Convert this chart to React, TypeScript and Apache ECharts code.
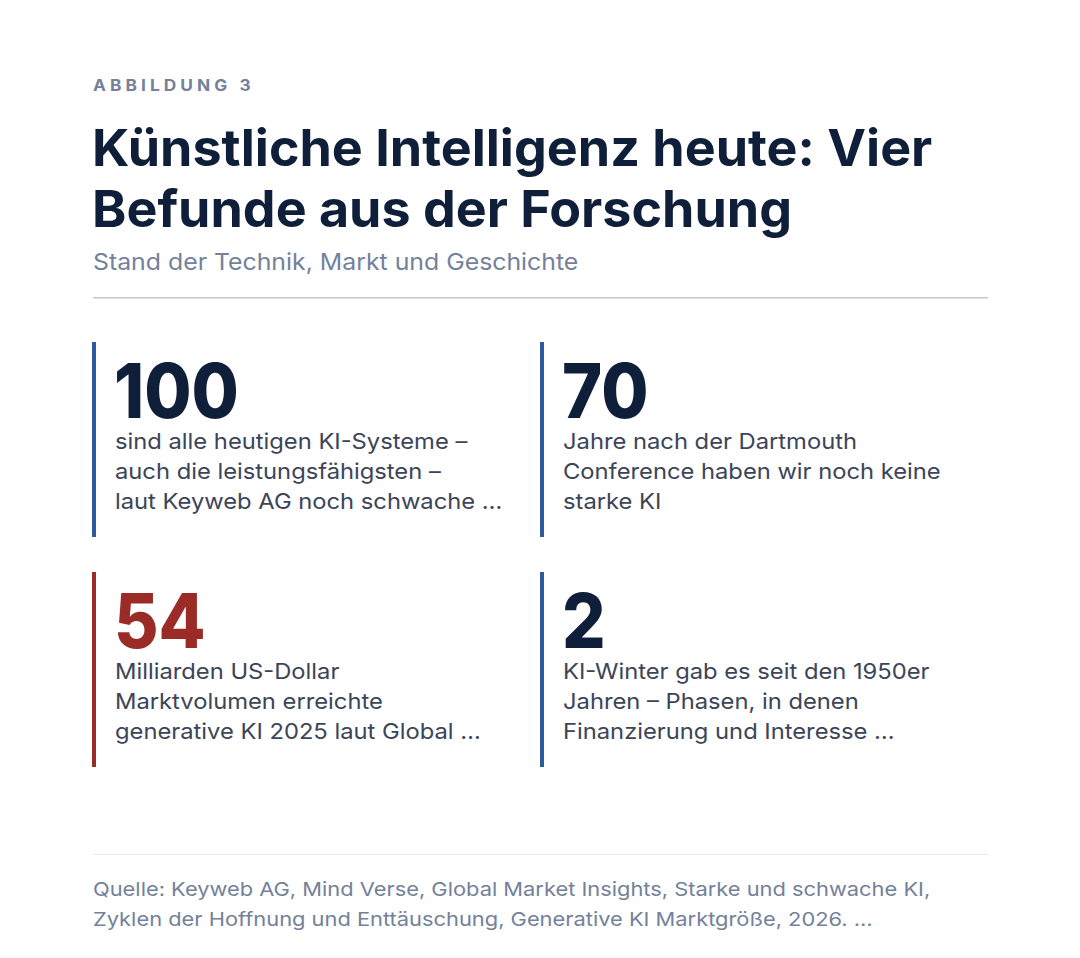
import { useEffect, useRef } from "react";
import * as echarts from "echarts";

const eyebrow = "ABBILDUNG 3";
const titleLines = ["Künstliche Intelligenz heute: Vier", "Befunde aus der Forschung"];
const subtitle = "Stand der Technik, Markt und Geschichte";

const statValues = ["100", "70", "54", "2"];
const statTexts = [
  ["sind alle heutigen KI-Systeme –", "auch die leistungsfähigsten –", "laut Keyweb AG noch schwache …"],
  ["Jahre nach der Dartmouth", "Conference haben wir noch keine", "starke KI"],
  ["Milliarden US-Dollar", "Marktvolumen erreichte", "generative KI 2025 laut Global …"],
  ["KI-Winter gab es seit den 1950er", "Jahren – Phasen, in denen", "Finanzierung und Interesse …"],
];
const statHighlight = [false, false, true, false];

const sourceLines = [
  "Quelle: Keyweb AG, Mind Verse, Global Market Insights, Starke und schwache KI,",
  "Zyklen der Hoffnung und Enttäuschung, Generative KI Marktgröße, 2026. …",
];

const FONT = "Inter, 'Noto Sans', sans-serif";
const NAVY = "#0f1f3a";
const MUTED = "#74819a";
const BODY = "#3c4558";
const BLUE = "#2d5a9c";
const RED = "#9b2b26";

export default function App() {
  const chartRef = useRef<HTMLDivElement>(null);

  useEffect(() => {
    document.body.style.margin = "0";
    if (!chartRef.current) return;
    const chart = echarts.init(chartRef.current, undefined, { renderer: "svg" });

    const cards: any[] = [];
    statValues.forEach((val, i) => {
      const col = i % 2;
      const row = Math.floor(i / 2);
      const x0 = 92 + col * 448;
      const y0 = 342 + row * 230;
      const accent = statHighlight[i] ? RED : BLUE;
      cards.push(
        {
          type: "rect",
          shape: { x: x0, y: y0, width: 4, height: 195 },
          style: { fill: accent },
        },
        {
          type: "text",
          x: x0 + 22,
          y: y0 + 48,
          scaleX: 0.9,
          style: {
            text: val,
            font: `800 76px ${FONT}`,
            lineHeight: 60,
            fill: statHighlight[i] ? RED : NAVY,
            verticalAlign: "middle",
          },
        },
        {
          type: "text",
          x: x0 + 23,
          y: y0 + 84,
          scaleX: 1.08,
          style: {
            text: statTexts[i].join("\n"),
            font: `400 22px ${FONT}`,
            lineHeight: 30,
            fill: BODY,
            verticalAlign: "top",
          },
        }
      );
    });

    const option = {
      animation: false,
      backgroundColor: "#ffffff",
      graphic: [
        {
          type: "text",
          x: 93,
          y: 85,
          scaleX: 1.08,
          style: {
            text: eyebrow.split("").join(" "),
            font: `700 16px ${FONT}`,
            fill: MUTED,
            verticalAlign: "middle",
          },
        },
        {
          type: "text",
          x: 92,
          y: 117,
          scaleX: 1.02,
          style: {
            text: titleLines.join("\n"),
            font: `700 51px ${FONT}`,
            lineHeight: 61,
            fill: NAVY,
            verticalAlign: "top",
          },
        },
        {
          type: "text",
          x: 93,
          y: 262,
          scaleX: 1.08,
          style: {
            text: subtitle,
            font: `400 23px ${FONT}`,
            fill: MUTED,
            verticalAlign: "middle",
          },
        },
        {
          type: "rect",
          shape: { x: 93, y: 297, width: 895, height: 1.5 },
          style: { fill: "#c3c9d4" },
        },
        ...cards,
        {
          type: "rect",
          shape: { x: 93, y: 854, width: 895, height: 1 },
          style: { fill: "#e6e9ef" },
        },
        {
          type: "text",
          x: 93,
          y: 874,
          scaleX: 1.15,
          style: {
            text: sourceLines.join("\n"),
            font: `400 19px ${FONT}`,
            lineHeight: 30,
            fill: MUTED,
            verticalAlign: "top",
          },
        },
      ],
    };

    chart.setOption(option);
    return () => chart.dispose();
  }, []);

  return <div ref={chartRef} style={{ width: "1080px", height: "958px" }} />;
}
